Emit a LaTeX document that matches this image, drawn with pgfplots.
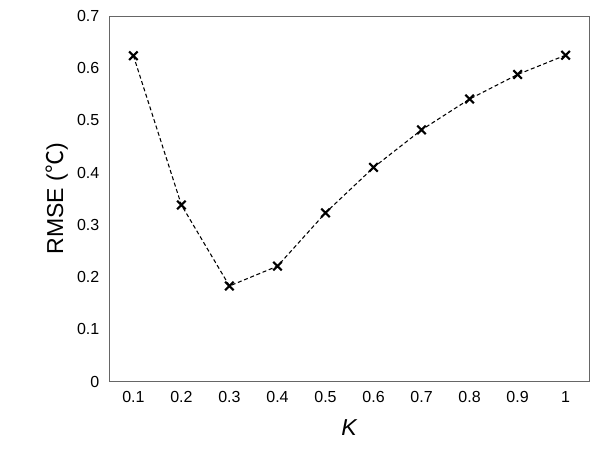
\documentclass[border=0pt]{standalone}
\usepackage{pgfplots}
\pgfplotsset{compat=1.18}
\usepackage{fontspec}
\setmainfont{Liberation Sans}
\newfontfamily\cjk{Noto Sans CJK SC}
\begin{document}
\begin{tikzpicture}
\useasboundingbox (-82pt,-64pt) rectangle (370pt,286pt);
\begin{axis}[
  at={(0,0)}, anchor=south west,
  scale only axis, width=360pt, height=274pt,
  xmin=0.05, xmax=1.05, ymin=0, ymax=0.7,
  xtick={0.1,0.2,0.3,0.4,0.5,0.6,0.7,0.8,0.9,1},
  xticklabels={0.1,0.2,0.3,0.4,0.5,0.6,0.7,0.8,0.9,1},
  ytick={0,0.1,0.2,0.3,0.4,0.5,0.6,0.7},
  yticklabels={0,0.1,0.2,0.3,0.4,0.5,0.6,0.7},
  major tick length=0pt,
  tick label style={font=\large},
  xticklabel style={yshift=-4pt},
  yticklabel style={xshift=-4pt},
  xlabel={\textit{K}}, ylabel={RMSE ({\cjk ℃})},
  label style={font=\LARGE},
  xlabel style={yshift=-6pt},
  ylabel style={yshift=0pt},
  axis line style={black!60},
]
\addplot[black, densely dashed, thick, mark=x, mark size=4.5pt, mark options={solid, line width=1.6pt}]
coordinates {(0.1,0.624)(0.2,0.338)(0.3,0.183)(0.4,0.221)(0.5,0.323)(0.6,0.41)(0.7,0.482)(0.8,0.541)(0.9,0.588)(1,0.625)};
\end{axis}
\end{tikzpicture}
\end{document}
